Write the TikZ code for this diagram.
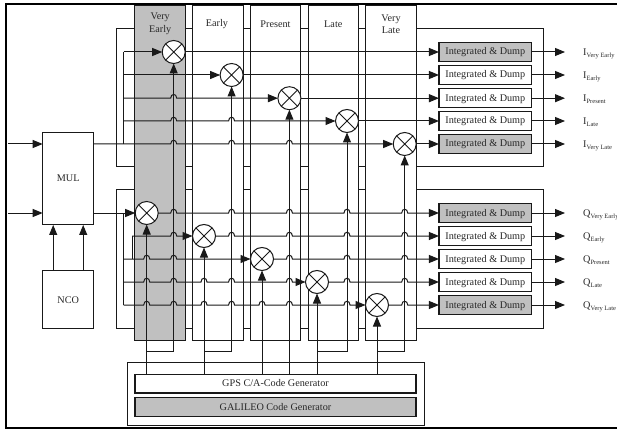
\documentclass[tikz,border=0pt]{standalone}
\usepackage{xcolor}
\usepackage{fontspec}
\setmainfont{Liberation Serif}
\usetikzlibrary{arrows.meta, positioning, calc}
\definecolor{mygray}{RGB}{192,192,192}
\definecolor{myline}{RGB}{25,25,25}
\definecolor{mytext}{RGB}{40,40,40}
\tikzset{
  wire/.style={line width=1pt, color=myline},
  arrow/.style={-{Triangle[length=10pt,width=8pt]}, line width=1pt, color=myline},
  panel/.style={rectangle, draw=myline, fill=white, line width=1pt, outer sep=0pt, inner sep=0pt},
  column/.style={panel, minimum width=50.5pt, minimum height=334.5pt},
  colgray/.style={column, fill=mygray},
  title/.style={align=center, inner sep=0pt, font=\fontsize{10.2}{12.5}\selectfont, text=mytext},
  unit/.style={panel, minimum width=51pt, font=\fontsize{10.2}{12}\selectfont, text=mytext},
  dump/.style={panel, line width=1.2pt, minimum width=92.7pt, minimum height=18.8pt,
    text height=8pt, text depth=2pt, font=\fontsize{10.2}{12}\selectfont, text=mytext},
  dumpgray/.style={dump, fill=mygray},
  codegen/.style={panel, line width=1.2pt, minimum width=281pt, minimum height=18.8pt,
    text height=8pt, text depth=2pt, font=\fontsize{10.2}{12}\selectfont, text=mytext},
  mixer/.style={circle, draw=myline, fill=white, line width=1pt, minimum size=23pt,
    inner sep=0pt, outer sep=0pt,
    path picture={\draw[line width=0.9pt, color=myline]
      (path picture bounding box.north west) -- (path picture bounding box.south east)
      (path picture bounding box.north east) -- (path picture bounding box.south west);}},
  output/.style={anchor=base west, inner sep=0pt, font=\fontsize{10.2}{12}\selectfont, text=mytext}
}
\newcommand{\hop}[2]{-- ({#1-3},#2) .. controls ({#1-3},{#2-5}) and ({#1+3},{#2-5}) .. ({#1+3},#2)}
\newcommand{\sublabel}[2]{#1\raisebox{-2.2pt}{\fontsize{6.5}{7}\selectfont #2}}

\begin{document}
\begin{tikzpicture}[x=1pt, y=-1pt]
  \useasboundingbox (0,0) rectangle (617,430);
  \clip (0,0) rectangle (617,430);

  % Outer frame
  \draw[line width=2pt, color=black] (6,4) rectangle (630,428);

  % Back panels of the I and Q branches
  \node[panel, minimum width=426.5pt, minimum height=138.3pt] (backI) at (329.75,97.85) {};
  \node[panel, minimum width=426.5pt, minimum height=138.7pt] (backQ) at (329.75,259.35) {};

  % Correlator columns
  \node[colgray] (colVE) at (160.2,172.75) {};
  \node[column] (colE) at (218,172.75) {};
  \node[column] (colP) at (275.5,172.75) {};
  \node[column] (colL) at (333.3,172.75) {};
  \node[column] (colVL) at (391,172.75) {};
  \node[title] (titleVE) at (160.2,24) {Very\\Early};
  \node[title] (titleE) at (217,24) {Early};
  \node[title] (titleP) at (275.5,24) {Present};
  \node[title] (titleL) at (333.3,24) {Late};
  \node[title] (titleVL) at (391,24) {Very\\Late};

  % Mixer and oscillator
  \node[unit, minimum height=92.7pt] (mul) at (68.2,178.6) {MUL};
  \node[unit, minimum height=57.7pt] (nco) at (68.2,299.8) {NCO};

  % Code generators
  \node[panel, minimum width=296.3pt, minimum height=63pt] (genbox) at (275.85,394.2) {};
  \node[codegen] (gps) at (275.5,383.5) {GPS C/A-Code Generator};
  \node[codegen, fill=mygray] (galileo) at (275.5,407) {GALILEO Code Generator};

  % Mixers of the I branch
  \node[mixer] (mixIve) at (173.7,52) {};
  \node[mixer] (mixIe) at (231.6,75) {};
  \node[mixer] (mixIp) at (289.4,98.2) {};
  \node[mixer] (mixIl) at (347,121) {};
  \node[mixer] (mixIvl) at (404.7,144) {};

  % Mixers of the Q branch
  \node[mixer] (mixQve) at (146.7,213) {};
  \node[mixer] (mixQe) at (204,236) {};
  \node[mixer] (mixQp) at (262,259) {};
  \node[mixer] (mixQl) at (317,282) {};
  \node[mixer] (mixQvl) at (377,305) {};

  % Integrate and dump blocks with outputs
  \foreach \n/\yy/\st/\sublab in {ve/52/dumpgray/Very Early, e/75/dump/Early, p/98.2/dump/Present,
      l/121/dump/Late, vl/144/dumpgray/Very Late}{
    \node[\st] (dumpI\n) at (485.3,\yy) {Integrated \& Dump};
    \coordinate (endI\n) at (565,\yy);
    \node[output] (labelI\n) at (583,\yy+3.5) {\sublabel{I}{\sublab}};
    \draw[arrow] (dumpI\n.east) -- (endI\n);
  }
  \foreach \n/\yy/\st/\sublab in {ve/213/dumpgray/Very Early, e/236/dump/Early, p/259/dump/Present,
      l/282/dump/Late, vl/305/dumpgray/Very Late}{
    \node[\st] (dumpQ\n) at (485.3,\yy) {Integrated \& Dump};
    \coordinate (endQ\n) at (565,\yy);
    \node[output] (labelQ\n) at (583,\yy+3.5) {\sublabel{Q}{\sublab}};
    \draw[arrow] (dumpQ\n.east) -- (endQ\n);
  }

  % Inputs and NCO feeds
  \coordinate (inI) at (8,144);
  \coordinate (inQ) at (8,213);
  \draw[arrow] (inI) -- (inI -| mul.west);
  \draw[arrow] (inQ) -- (inQ -| mul.west);
  \draw[arrow] ($(nco.north)+(-15,0)$) -- ($(mul.south)+(-15,0)$);
  \draw[arrow] ($(nco.north)+(15,0)$) -- ($(mul.south)+(15,0)$);

  % Code lines from the generator
  \coordinate (bus) at (0,351.3);
  \draw[arrow] (gps.north -| mixQve) -- (mixQve.south);
  \draw[arrow] (gps.north -| mixQe) -- (mixQe.south);
  \draw[arrow] (gps.north -| mixQp) -- (mixQp.south);
  \draw[arrow] (gps.north -| mixIp) -- (mixIp.south);
  \draw[arrow] (gps.north -| mixQl) -- (mixQl.south);
  \draw[arrow] (gps.north -| mixQvl) -- (mixQvl.south);
  \draw[arrow] (mixQve |- bus) -| (mixIve.south);
  \draw[arrow] (mixQe |- bus) -| (mixIe.south);
  \draw[arrow] (mixQl |- bus) -| (mixIl.south);
  \draw[arrow] (mixQvl |- bus) -| (mixIvl.south);

  % I branch wiring
  \coordinate (trunkI) at (123.5,144);
  \draw[wire] (trunkI) -- (trunkI |- mixIve);
  \draw[arrow] (trunkI |- mixIve) -- (mixIve.west);
  \draw[arrow] (trunkI |- mixIe) -- (mixIe.west);
  \draw[arrow] (trunkI |- mixIp) \hop{173.7}{98.2} -- (mixIp.west);
  \draw[arrow] (trunkI |- mixIl) \hop{173.7}{121} \hop{231.6}{121} -- (mixIl.west);
  \draw[arrow] (mul.east |- mixIvl) \hop{173.7}{144} \hop{231.6}{144} \hop{289.4}{144} -- (mixIvl.west);
  \draw[arrow] (mixIve.east) -- (dumpIve.west);
  \draw[arrow] (mixIe.east) -- (dumpIe.west);
  \draw[arrow] (mixIp.east) -- (dumpIp.west);
  \draw[arrow] (mixIl.east) -- (dumpIl.west);
  \draw[arrow] (mixIvl.east) -- (dumpIvl.west);

  % Q branch wiring
  \coordinate (trunkQ) at (123.5,213);
  \coordinate (stubQ) at (132,236);
  \draw[arrow] (mul.east |- mixQve) -- (mixQve.west);
  \draw[wire] (trunkQ) -- (trunkQ |- mixQvl);
  \draw[wire] (stubQ) -- (stubQ |- mixQp);
  \draw[arrow] (stubQ) \hop{173.7}{236} -- (mixQe.west);
  \draw[arrow] (trunkQ |- mixQp) \hop{146.7}{259} \hop{173.7}{259} -- (mixQp.west);
  \draw[arrow] (trunkQ |- mixQl) \hop{146.7}{282} \hop{173.7}{282} \hop{204}{282} \hop{231.6}{282} \hop{289.4}{282} -- (mixQl.west);
  \draw[arrow] (trunkQ |- mixQvl) \hop{146.7}{305} \hop{173.7}{305} \hop{204}{305} \hop{231.6}{305} \hop{262}{305} \hop{289.4}{305} \hop{347}{305} -- (mixQvl.west);
  \draw[arrow] (mixQve.east) \hop{173.7}{213} \hop{231.6}{213} \hop{289.4}{213} \hop{347}{213} \hop{404.7}{213} -- (dumpQve.west);
  \draw[arrow] (mixQe.east) \hop{231.6}{236} \hop{289.4}{236} \hop{347}{236} \hop{404.7}{236} -- (dumpQe.west);
  \draw[arrow] (mixQp.east) \hop{289.4}{259} \hop{347}{259} \hop{404.7}{259} -- (dumpQp.west);
  \draw[arrow] (mixQl.east) \hop{347}{282} \hop{404.7}{282} -- (dumpQl.west);
  \draw[arrow] (mixQvl.east) \hop{404.7}{305} -- (dumpQvl.west);
\end{tikzpicture}
\end{document}
